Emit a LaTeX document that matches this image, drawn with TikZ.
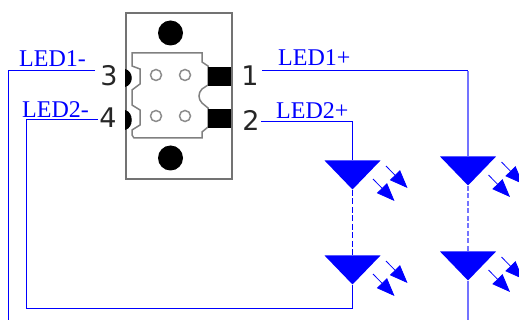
\documentclass[tikz,border=0pt]{standalone}
\usepackage{fontspec}
\setmainfont{Liberation Serif}
\newfontfamily\pinfont{DejaVu Sans}
\usetikzlibrary{arrows.meta,shapes.geometric}
\tikzset{
    housing/.style={draw=black!55, line width=2pt, minimum width=106pt, minimum height=166pt, inner sep=0pt},
    outline/.style={draw=black!50, line width=1.5pt},
    bighole/.style={circle, fill=black, minimum size=25pt, inner sep=0pt},
    pinhole/.style={circle, draw=black!45, line width=1.5pt, minimum size=11pt, inner sep=0pt},
    pad/.style={fill=black, minimum width=23pt, minimum height=19pt, inner sep=0pt},
    pinnum/.style={font=\pinfont\fontsize{27}{27}\selectfont, text=black!85, inner sep=0pt},
    netname/.style={font=\fontsize{24}{24}\selectfont, text=blue, inner sep=0pt, anchor=base west},
    wire/.style={draw=blue, line width=1pt},
    wirefaint/.style={draw=blue!55, line width=1.8pt},
    ledtri/.style={isosceles triangle, isosceles triangle stretches, shape border rotate=-90, fill=blue, inner sep=0pt, minimum width=56pt, minimum height=29pt, anchor=apex},
    beam/.style={draw=blue, line width=0.8pt, -{Triangle[length=18pt,width=14pt]}}
}
\begin{document}
\begin{tikzpicture}[x=1pt,y=-1pt]
    \useasboundingbox (0,0) rectangle (519,320);

    % Connector body
    \node[housing] (body) at (178.5,96.5) {};
    \node[bighole] (holetop) at (170.5,33) {};
    \node[bighole] (holebot) at (170.5,158) {};
    \draw[outline] (132,53) -- (202,53) -- (202,62) -- (208,66) -- (208,85) -- (202,89)
        .. controls (198,93) and (198,99) .. (202,103) -- (208,108) -- (208,127) -- (202,132)
        -- (202,138) -- (134,138) -- (132,135) -- (132,130) -- (140,125) -- (140,110) -- (132,105)
        -- (132,90) -- (140,84) -- (140,69) -- (132,66) -- cycle;

    % Contact holes
    \node[pinhole] (h1) at (156,75) {};
    \node[pinhole] (h2) at (185,75) {};
    \node[pinhole] (h3) at (156,116) {};
    \node[pinhole] (h4) at (185,116) {};

    % Pads
    \node[pad] (pad1) at (219.5,76.5) {};
    \node[pad] (pad2) at (219.5,118.5) {};
    \fill (125,69) .. controls (134,71) and (134,85) .. (125,87) -- cycle;
    \fill (125,110) .. controls (134,112) and (134,128) .. (125,130) -- cycle;

    % Pin numbers
    \node[pinnum] (n3) at (109,76) {3};
    \node[pinnum] (n4) at (108,118) {4};
    \node[pinnum] (n1) at (250,76) {1};
    \node[pinnum] (n2) at (251,120) {2};

    % Net names
    \node[netname] (led1m) at (19,67) {LED1-};
    \node[netname] (led2m) at (22,118) {LED2-};
    \node[netname] (led1p) at (278,66) {LED1+};
    \node[netname] (led2p) at (276,119) {LED2+};

    % LEDs
    \node[ledtri] (d1) at (352.5,190) {};
    \node[ledtri] (d2) at (352.5,285) {};
    \node[ledtri] (d3) at (468,186) {};
    \node[ledtri] (d4) at (468,281) {};

    % Light arrows
    \foreach \name/\xx/\yy in {d1/352.5/190, d2/352.5/285, d3/468/186, d4/468/281} {
        \coordinate (\name a) at (\xx+33.5,\yy-24);
        \coordinate (\name b) at (\xx+55,\yy-2);
        \coordinate (\name c) at (\xx+20.5,\yy-11);
        \coordinate (\name d) at (\xx+42,\yy+11);
        \draw[beam] (\name a) -- (\name b);
        \draw[beam] (\name c) -- (\name d);
    }

    % Wire ends and corners
    \coordinate (p1) at (262,71);
    \coordinate (p2) at (261,122);
    \coordinate (p3) at (95,71);
    \coordinate (p4) at (98,120);
    \coordinate (c1) at (468,71);
    \coordinate (c2) at (352.5,122);
    \coordinate (c3) at (8,71);
    \coordinate (c4) at (26,120);
    \coordinate (c5) at (26,308);
    \coordinate (c6) at (352.5,308);
    \coordinate (e1) at (8,320);
    \coordinate (e2) at (468,320);

    % Draw lines
    \draw[wire] (p1) -- (c1);
    \draw[wirefaint] (c1) -- (d3.lower side);
    \draw[wire] (p2) -- (c2) -- (d1.lower side);
    \draw[wire] (p3) -- (c3) -- (e1);
    \draw[wire] (p4) -- (c4) -- (c5) -- (c6) -- (d2.apex);
    \draw[wirefaint] (d4.apex) -- (e2);

    % Dashed links
    \draw[wire, dash pattern=on 6pt off 2.5pt] (d1.apex) -- (d2.lower side);
    \draw[wirefaint, dash pattern=on 5pt off 2.5pt] (d3.apex) -- (d4.lower side);
\end{tikzpicture}
\end{document}
